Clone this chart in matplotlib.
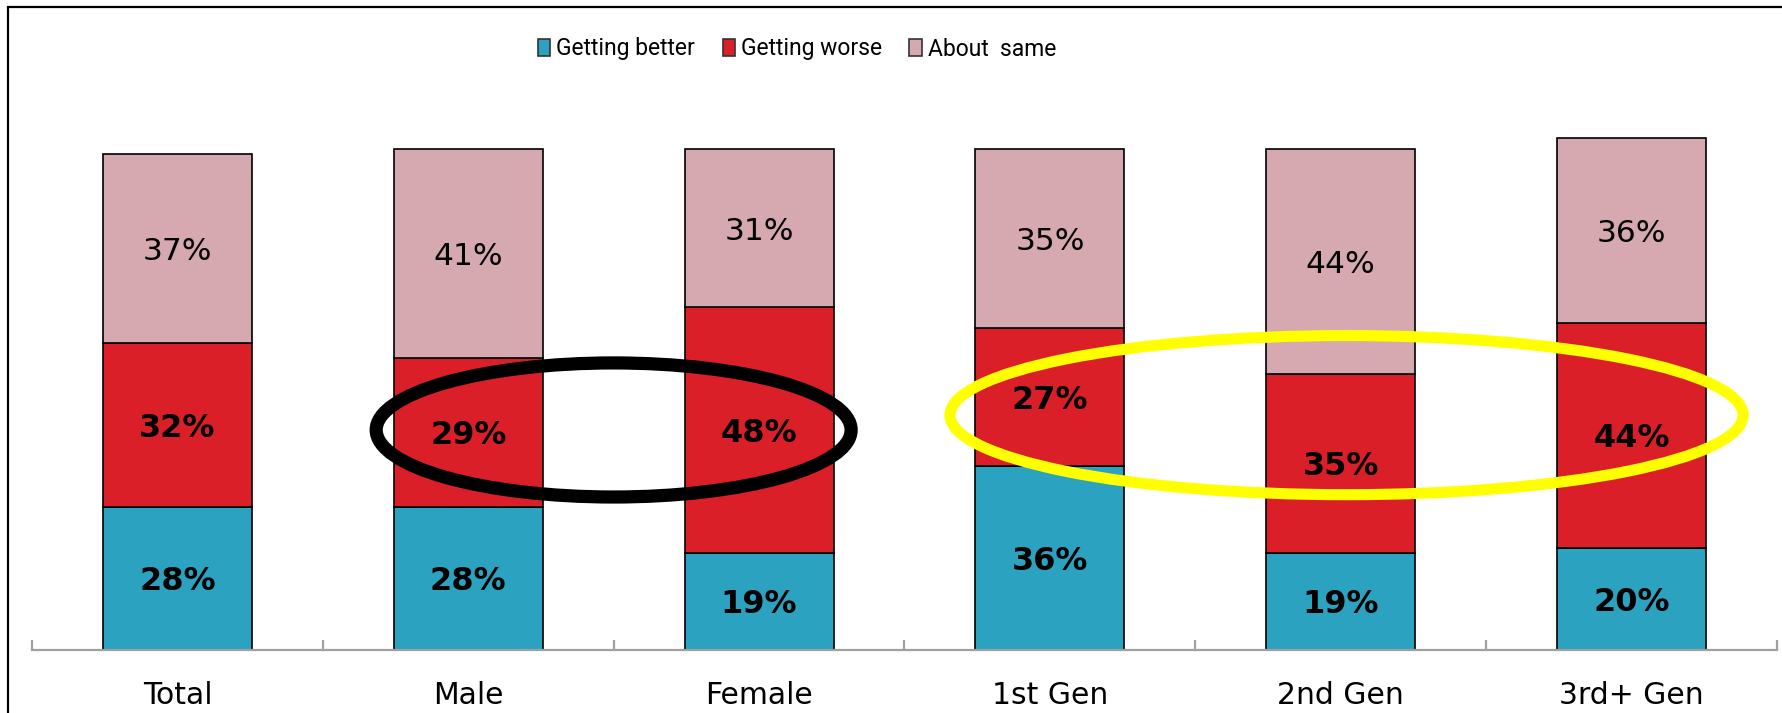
import matplotlib
matplotlib.use("Agg")
import matplotlib.pyplot as plt
from matplotlib.patches import Patch, Ellipse, Rectangle
import numpy as np

categories = ["Total", "Male", "Female", "1st Gen", "2nd Gen", "3rd+ Gen"]
getting_better = [28, 28, 19, 36, 19, 20]
getting_worse = [32, 29, 48, 27, 35, 44]
about_same = [37, 41, 31, 35, 44, 36]
series_names = ["Getting better", "Getting worse", "About  same"]
colors = ["#2BA3C0", "#DA1F28", "#D6A8B0"]

plt.rcParams['font.family'] = ['DejaVu Sans']

W, H = 1783, 713
fig = plt.figure(figsize=(W / 100, H / 100), dpi=100)
ax = fig.add_axes([32 / W, 63 / H, (1777 - 32) / W, 120 * 5.117 / H])

x = np.arange(len(categories))
series = [getting_better, getting_worse, about_same]
bottom = np.zeros(len(categories))
weights = ["bold", "bold", "normal"]
for vals, col, name, wt in zip(series, colors, series_names, weights):
    vals = np.array(vals, dtype=float)
    ax.bar(x, vals, width=0.512, bottom=bottom, color=col, edgecolor="black",
           linewidth=1.2, label=name, zorder=2)
    for xi, b, v in zip(x, bottom, vals):
        ax.annotate(f"{int(v)}%", (xi, b + v / 2), xytext=(0, -2.5),
                    textcoords="offset points", ha="center", va="center",
                    fontsize=23 if wt == "bold" else 22.5, fontweight=wt,
                    color="black", zorder=4)
    bottom += vals

ax.set_xlim(-0.5, len(categories) - 0.5)
ax.set_ylim(0, 120)
ax.set_yticks([])
for s in ["left", "right", "top"]:
    ax.spines[s].set_visible(False)
ax.spines["bottom"].set_color("#A0A0A0")
ax.spines["bottom"].set_linewidth(1.6)
ax.set_xticks(x)
ax.set_xticklabels(categories, fontsize=21.5)
ax.tick_params(axis="x", which="major", length=0, pad=22)
ax.set_xticks(np.arange(-0.5, len(categories), 1.0), minor=True)
ax.tick_params(axis="x", which="minor", direction="in", length=7, width=1.6,
               color="#A0A0A0")

# annotation ellipses (between Male & Female; around 1st..3rd+ Gen worse values)
ax.add_patch(Ellipse((1.5, 43.0), 1.633, 26.2, fill=False, edgecolor="black",
                     linewidth=9.5, zorder=5))
ax.add_patch(Ellipse((4.02, 45.9), 2.727, 31.1, fill=False, edgecolor="#FFFF00",
                     linewidth=8.0, zorder=5))

handles = [Patch(facecolor=c, edgecolor="#333333", linewidth=1.2) for c in colors]
fig.legend(handles, series_names, loc="center", bbox_to_anchor=(797 / W, 1 - 49 / H),
           ncol=3, frameon=False, handlelength=0.55, handleheight=0.8,
           handletextpad=0.25, columnspacing=1.2,
           prop={"family": ["Roboto", "DejaVu Sans"], "size": 16.5})

# outer frame (partially clipped like the original)
fig.patches.append(Rectangle((8.5 / W, -0.2), 1.3, 1 - 6.5 / H + 0.2,
                             transform=fig.transFigure, fill=False,
                             edgecolor="black", linewidth=1.6))

fig.savefig("out.png", dpi=100)
